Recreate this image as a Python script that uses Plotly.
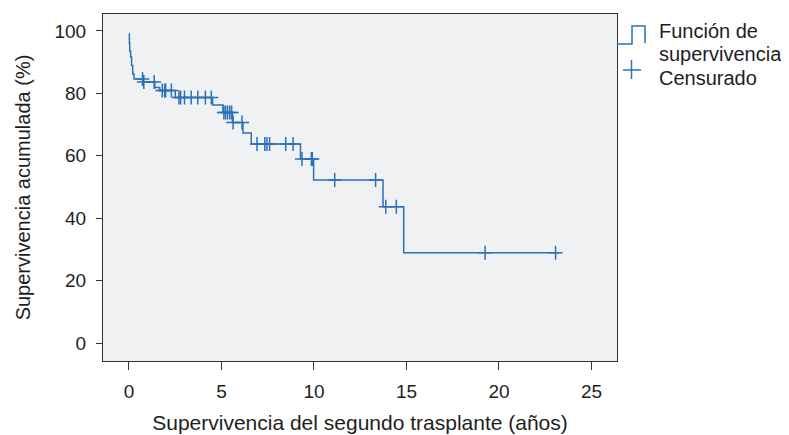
import numpy as np
import plotly.graph_objects as go

# Kaplan-Meier step curve (time in years, survival in %)
event_times = [0, 0.02, 0.04, 0.09, 0.14, 0.20, 0.27, 0.77, 1.40, 1.66, 2.50,
               4.52, 5.08, 5.59, 6.16, 6.61, 9.27, 9.98, 13.73, 14.85, 23.26]
survival = [99.0, 96.0, 93.5, 91.6, 88.9, 86.2, 84.6, 83.6, 81.9, 80.9, 78.7,
            76.3, 73.9, 70.7, 67.3, 63.8, 59.0, 52.3, 43.7, 29.0, 29.0]

# Censored observations (time in years)
censored_times = [0.73, 0.80, 1.36, 1.80, 1.93, 1.98, 2.29, 2.70, 2.79, 3.00,
                  3.36, 3.72, 4.13, 4.45, 5.13, 5.22, 5.33, 5.45, 5.55, 5.63,
                  6.11, 6.92, 7.34, 7.46, 7.60, 8.47, 8.87, 9.35, 9.86, 9.91,
                  11.12, 13.33, 13.88, 14.45, 19.25, 23.06]

x_ticks = [0, 5, 10, 15, 20, 25]
y_ticks = [0, 20, 40, 60, 80, 100]

legend_labels = ["Función de", "supervivencia", "Censurado"]
x_title = "Supervivencia del segundo trasplante (años)"
y_title = "Supervivencia acumulada (%)"

# survival value at each censored time from the step function
et = np.array(event_times)
sv = np.array(survival)
idx = np.searchsorted(et, np.array(censored_times), side="right") - 1
censored_vals = sv[idx].tolist()

BLUE = "#2a71b8"
FONT = "Liberation Sans, Arial, Helvetica, sans-serif"
TXT = "#1e1e1e"

OFF = 8  # page body margin
W, H = 789 - OFF, 435 - OFF
# plot area in reference pixels
RL, RR, RT, RB = 103, 617, 14, 361
L, R, T, B = RL - OFF, RR - OFF, RT - OFF, RB - OFF

fig = go.Figure()
fig.add_trace(go.Scatter(x=event_times, y=survival, mode="lines",
                         line=dict(color=BLUE, width=1.5, shape="hv"),
                         showlegend=False, hoverinfo="skip"))
fig.add_trace(go.Scatter(x=censored_times, y=censored_vals, mode="markers",
                         marker=dict(symbol="cross-thin", size=10,
                                     line=dict(color=BLUE, width=1.5)),
                         showlegend=False))

def px(xp):
    return (xp - RL) / (RR - RL)

def py(yp):
    return (RB - yp) / (RB - RT)

shapes = []
# step icon
pts = [(617, 44), (632, 44), (632, 26), (645, 26), (645, 43)]
path = "M " + " L ".join(f"{px(a):.4f},{py(b):.4f}" for a, b in pts)
shapes.append(dict(type="path", xref="paper", yref="paper", path=path,
                   line=dict(color=BLUE, width=1.5)))
# plus icon
shapes.append(dict(type="line", xref="paper", yref="paper",
                   x0=px(623), x1=px(641), y0=py(70), y1=py(70),
                   line=dict(color=BLUE, width=1.5)))
shapes.append(dict(type="line", xref="paper", yref="paper",
                   x0=px(631.5), x1=px(631.5), y0=py(60), y1=py(79),
                   line=dict(color=BLUE, width=1.5)))

annotations = []
for lab, yy in zip(legend_labels, [31, 54, 78]):
    annotations.append(dict(text=lab, xref="paper", yref="paper",
                            x=px(657), y=py(yy), xanchor="left", yanchor="middle",
                            showarrow=False, font=dict(size=20, color=TXT, family=FONT)))

fig.update_layout(
    width=W, height=H,
    margin=dict(l=L, r=W - R, t=T, b=H - B),
    paper_bgcolor="white", plot_bgcolor="#f0f1f3",
    font=dict(family=FONT, color=TXT, size=19),
    shapes=shapes, annotations=annotations,
    xaxis=dict(range=[-1.405, 26.38], tickvals=x_ticks, ticks="outside", ticklen=8,
               tickcolor="#333", showline=True, linecolor="#333", linewidth=1,
               mirror=True, showgrid=False, zeroline=False, automargin=False,
               tickfont=dict(size=19), ticklabelstandoff=5,
               title=dict(text=x_title, font=dict(size=21), standoff=14)),
    yaxis=dict(range=[-5.67, 105.4], tickvals=y_ticks, ticks="outside", ticklen=6,
               tickcolor="#333", showline=True, linecolor="#333", linewidth=1,
               mirror=True, showgrid=False, zeroline=False, automargin=False,
               tickfont=dict(size=19), ticklabelstandoff=6,
               title=dict(text=y_title, font=dict(size=20), standoff=18)),
)

fig.write_html("out.html")
